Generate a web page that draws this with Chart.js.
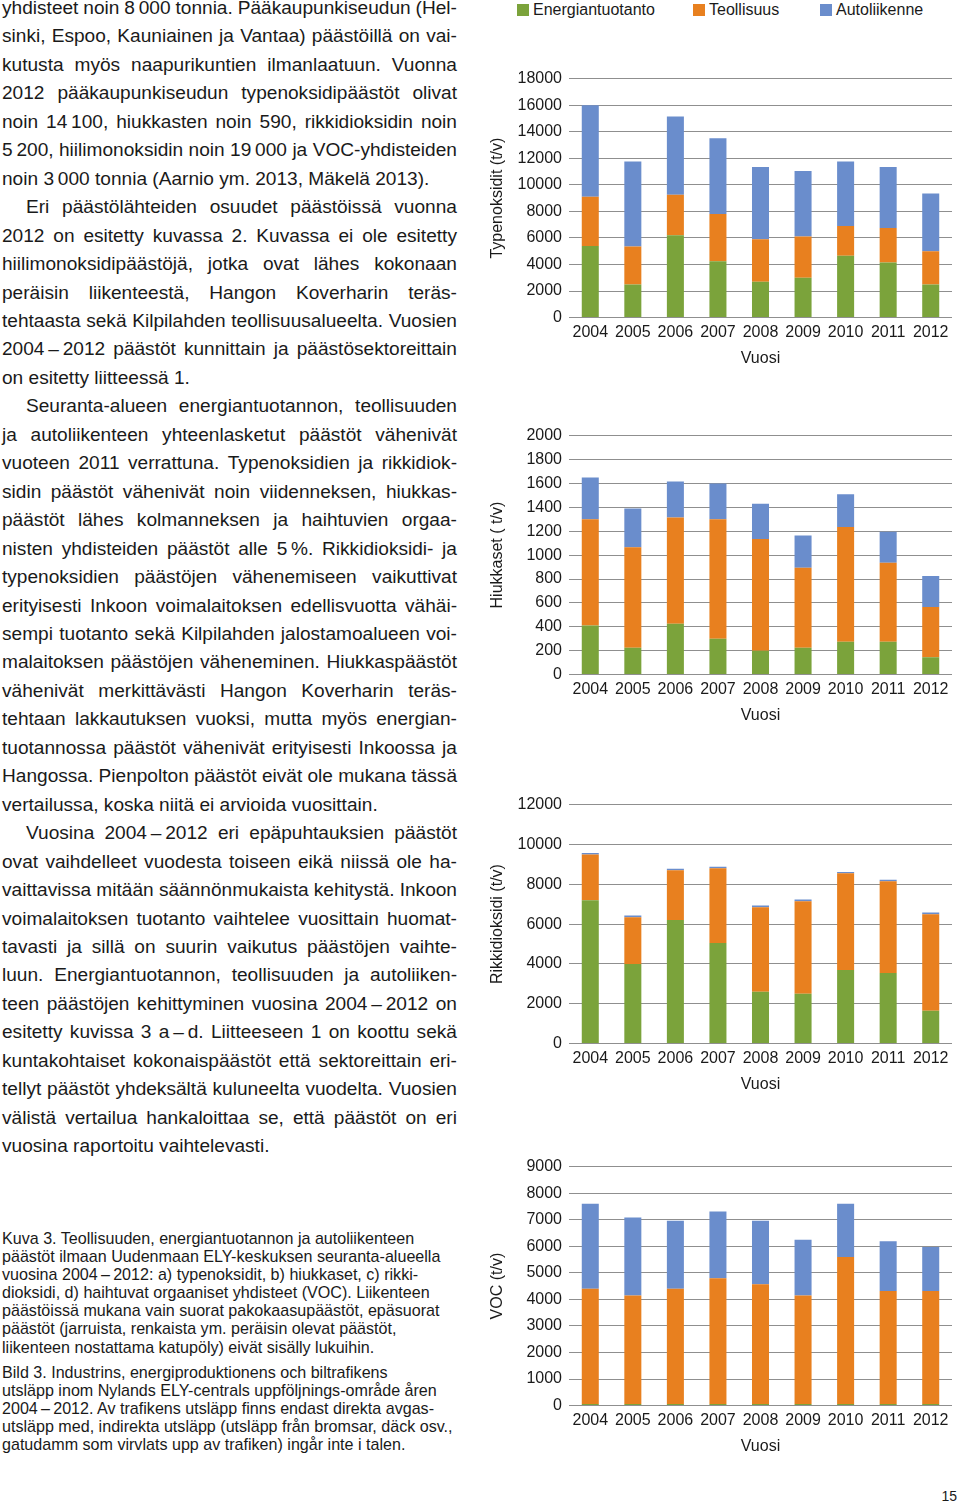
<!DOCTYPE html>
<html lang="fi">
<head>
<meta charset="utf-8">
<title>Päästöt 2004–2012</title>
<script src="https://cdn.jsdelivr.net/npm/chart.js@4.4.1/dist/chart.umd.min.js"></script>
<style>
  body { margin: 0; width: 960px; height: 1503px; position: relative; overflow: hidden; background: #fff;
         font-family: "Liberation Sans", Arial, Helvetica, sans-serif; color: #1a1a1a; }
  #text { position: absolute; left: 2px; top: -6px; width: 455px; font-size: 19.1px; line-height: 28.45px; }
  #text div { display: flex; justify-content: space-between; white-space: nowrap; }
  #text div.last { display: block; }
  #text div.ind { padding-left: 24px; }
  #caption { position: absolute; left: 2px; top: 1229px; font-size: 16.1px; line-height: 18.1px; white-space: nowrap; }
  #caption .gap { height: 7px; }
  #legend { position: absolute; left: 517px; top: 0; font-size: 16px; line-height: 20px; white-space: nowrap; }
  #legend span.item { position: absolute; top: 0; }
  #legend i { display: inline-block; width: 12px; height: 12px; margin-right: 4px; vertical-align: -1px; }
  .chart { position: absolute; left: 488px; width: 472px; height: 310px; }
  #page { position: absolute; right: 3px; top: 1488px; font-size: 14px; }
</style>
</head>
<body>

<div id="text">
  <div>yhdisteet noin 8&#8239;000 tonnia. Pääkaupunkiseudun (Hel-</div>
  <div>sinki, Espoo, Kauniainen ja Vantaa) päästöillä on vai-</div>
  <div>kutusta myös naapurikuntien ilmanlaatuun. Vuonna</div>
  <div>2012 pääkaupunkiseudun typenoksidipäästöt olivat</div>
  <div>noin 14&#8239;100, hiukkasten noin 590, rikkidioksidin noin</div>
  <div>5&#8239;200, hiilimonoksidin noin 19&#8239;000 ja VOC-yhdisteiden</div>
  <div class="last">noin 3&#8239;000 tonnia (Aarnio ym. 2013, Mäkelä 2013).</div>
  <div class="ind">Eri päästölähteiden osuudet päästöissä vuonna</div>
  <div>2012 on esitetty kuvassa 2. Kuvassa ei ole esitetty</div>
  <div>hiilimonoksidipäästöjä, jotka ovat lähes kokonaan</div>
  <div>peräisin liikenteestä, Hangon Koverharin teräs-</div>
  <div>tehtaasta sekä Kilpilahden teollisuusalueelta. Vuosien</div>
  <div>2004&#8239;–&#8239;2012 päästöt kunnittain ja päästösektoreittain</div>
  <div class="last">on esitetty liitteessä 1.</div>
  <div class="ind">Seuranta-alueen energiantuotannon, teollisuuden</div>
  <div>ja autoliikenteen yhteenlasketut päästöt vähenivät</div>
  <div>vuoteen 2011 verrattuna. Typenoksidien ja rikkidiok-</div>
  <div>sidin päästöt vähenivät noin viidenneksen, hiukkas-</div>
  <div>päästöt lähes kolmanneksen ja haihtuvien orgaa-</div>
  <div>nisten yhdisteiden päästöt alle 5&#8239;%. Rikkidioksidi- ja</div>
  <div>typenoksidien päästöjen vähenemiseen vaikuttivat</div>
  <div>erityisesti Inkoon voimalaitoksen edellisvuotta vähäi-</div>
  <div>sempi tuotanto sekä Kilpilahden jalostamoalueen voi-</div>
  <div>malaitoksen päästöjen väheneminen. Hiukkaspäästöt</div>
  <div>vähenivät merkittävästi Hangon Koverharin teräs-</div>
  <div>tehtaan lakkautuksen vuoksi, mutta myös energian-</div>
  <div>tuotannossa päästöt vähenivät erityisesti Inkoossa ja</div>
  <div>Hangossa. Pienpolton päästöt eivät ole mukana tässä</div>
  <div class="last">vertailussa, koska niitä ei arvioida vuosittain.</div>
  <div class="ind">Vuosina 2004&#8239;–&#8239;2012 eri epäpuhtauksien päästöt</div>
  <div>ovat vaihdelleet vuodesta toiseen eikä niissä ole ha-</div>
  <div>vaittavissa mitään säännönmukaista kehitystä. Inkoon</div>
  <div>voimalaitoksen tuotanto vaihtelee vuosittain huomat-</div>
  <div>tavasti ja sillä on suurin vaikutus päästöjen vaihte-</div>
  <div>luun. Energiantuotannon, teollisuuden ja autoliiken-</div>
  <div>teen päästöjen kehittyminen vuosina 2004&#8239;–&#8239;2012 on</div>
  <div>esitetty kuvissa 3 a&#8239;–&#8239;d. Liitteeseen 1 on koottu sekä</div>
  <div>kuntakohtaiset kokonaispäästöt että sektoreittain eri-</div>
  <div>tellyt päästöt yhdeksältä kuluneelta vuodelta. Vuosien</div>
  <div>välistä vertailua hankaloittaa se, että päästöt on eri</div>
  <div class="last">vuosina raportoitu vaihtelevasti.</div>
</div>

<div id="caption">
  <div>Kuva 3. Teollisuuden, energiantuotannon ja autoliikenteen</div>
  <div>päästöt ilmaan Uudenmaan ELY-keskuksen seuranta-alueella</div>
  <div>vuosina 2004&#8239;–&#8239;2012: a) typenoksidit, b) hiukkaset, c) rikki-</div>
  <div>dioksidi, d) haihtuvat orgaaniset yhdisteet (VOC). Liikenteen</div>
  <div>päästöissä mukana vain suorat pakokaasupäästöt, epäsuorat</div>
  <div>päästöt (jarruista, renkaista ym. peräisin olevat päästöt,</div>
  <div>liikenteen nostattama katupöly) eivät sisälly lukuihin.</div>
  <div class="gap"></div>
  <div>Bild 3. Industrins, energiproduktionens och biltrafikens</div>
  <div>utsläpp inom Nylands ELY-centrals uppföljnings-område åren</div>
  <div>2004&#8239;–&#8239;2012. Av trafikens utsläpp finns endast direkta avgas-</div>
  <div>utsläpp med, indirekta utsläpp (utsläpp från bromsar, däck osv.,</div>
  <div>gatudamm som virvlats upp av trafiken) ingår inte i talen.</div>
</div>

<div id="legend"></div>

<div class="chart" style="top:62px"><canvas id="noxChart"></canvas></div>
<div class="chart" style="top:419px"><canvas id="pmChart"></canvas></div>
<div class="chart" style="top:788px"><canvas id="so2Chart"></canvas></div>
<div class="chart" style="top:1150px"><canvas id="vocChart"></canvas></div>

<div id="page">15</div>

<script>
// Vuodet ja sektorit
const years = ['2004', '2005', '2006', '2007', '2008', '2009', '2010', '2011', '2012'];
const sectors = ['Energiantuotanto', 'Teollisuus', 'Autoliikenne'];
const sectorColors = ['#7ba33b', '#e8801f', '#6a8dcc'];

// a) Typenoksidit (t/v)
const noxEnergy = [5400, 2500, 6200, 4250, 2700, 3000, 4650, 4150, 2500];
const noxIndustry = [3700, 2850, 3050, 3550, 3200, 3100, 2250, 2600, 2500];
const noxTraffic = [6900, 6400, 5900, 5700, 5450, 4950, 4850, 4600, 4350];

// b) Hiukkaset (t/v)
const pmEnergy = [410, 225, 425, 300, 200, 225, 275, 275, 145];
const pmIndustry = [890, 840, 890, 1000, 935, 670, 960, 660, 420];
const pmTraffic = [350, 325, 300, 300, 295, 270, 275, 260, 260];

// c) Rikkidioksidi (t/v)
const so2Energy = [7200, 4000, 6200, 5050, 2600, 2500, 3700, 3550, 1650];
const so2Industry = [2300, 2350, 2500, 3750, 4250, 4650, 4850, 4600, 4850];
const so2Traffic = [70, 80, 80, 80, 80, 80, 70, 80, 80];

// d) VOC (t/v)
const vocEnergy = [60, 60, 60, 60, 60, 60, 60, 60, 60];
const vocIndustry = [4340, 4090, 4340, 4740, 4510, 4090, 5540, 4260, 4260];
const vocTraffic = [3200, 2930, 2560, 2510, 2390, 2100, 2000, 1870, 1650];

// Justify the body text line by line (words spread across the column)
document.querySelectorAll('#text div:not(.last)').forEach(function (line) {
    const words = line.textContent.trim().split(' ');
    line.innerHTML = '';
    words.forEach(function (w) {
        const s = document.createElement('span');
        s.textContent = w;
        line.appendChild(s);
    });
});

// HTML legend (one shared legend above the first chart)
const legendLeft = [0, 176, 303];
const legendEl = document.getElementById('legend');
sectors.forEach(function (name, i) {
    const item = document.createElement('span');
    item.className = 'item';
    item.style.left = legendLeft[i] + 'px';
    item.innerHTML = '<i style="background:' + sectorColors[i] + '"></i>' + name;
    legendEl.appendChild(item);
});

function stackedChart(id, yTitle, energy, industry, traffic, yMax, yStep) {
    const ctx = document.getElementById(id).getContext('2d');
    return new Chart(ctx, {
        type: 'bar',
        data: {
            labels: years,
            datasets: [
                { label: sectors[0], data: energy, backgroundColor: sectorColors[0], borderWidth: 0 },
                { label: sectors[1], data: industry, backgroundColor: sectorColors[1], borderWidth: 0 },
                { label: sectors[2], data: traffic, backgroundColor: sectorColors[2], borderWidth: 0 }
            ]
        },
        options: {
            responsive: true,
            maintainAspectRatio: false,
            animation: false,
            layout: { padding: { top: 12, right: 8, bottom: 0, left: 0 } },
            datasets: { bar: { categoryPercentage: 1, barPercentage: 0.4 } },
            plugins: {
                legend: { display: false },
                tooltip: { enabled: false }
            },
            scales: {
                x: {
                    stacked: true,
                    grid: { display: false, drawTicks: false },
                    border: { display: false },
                    ticks: { color: '#1a1a1a', font: { size: 16 }, padding: 5, maxRotation: 0, autoSkip: false },
                    title: {
                        display: true,
                        text: 'Vuosi',
                        color: '#1a1a1a',
                        font: { size: 16 },
                        padding: { top: 2, bottom: 4 }
                    }
                },
                y: {
                    stacked: true,
                    min: 0,
                    max: yMax,
                    grid: { color: '#8f8f8f', drawTicks: false },
                    border: { display: false },
                    ticks: {
                        stepSize: yStep,
                        padding: 7,
                        color: '#1a1a1a',
                        font: { size: 16 },
                        callback: function (v) { return String(v); }
                    },
                    title: {
                        display: true,
                        text: yTitle,
                        color: '#1a1a1a',
                        font: { size: 16 },
                        padding: { top: 0, bottom: 4 }
                    },
                    afterFit: function (scale) { scale.width = 81; }
                }
            }
        }
    });
}

stackedChart('noxChart', 'Typenoksidit (t/v)', noxEnergy, noxIndustry, noxTraffic, 18000, 2000);
stackedChart('pmChart', 'Hiukkaset ( t/v)', pmEnergy, pmIndustry, pmTraffic, 2000, 200);
stackedChart('so2Chart', 'Rikkidioksidi (t/v)', so2Energy, so2Industry, so2Traffic, 12000, 2000);
stackedChart('vocChart', 'VOC (t/v)', vocEnergy, vocIndustry, vocTraffic, 9000, 1000);
</script>
</body>
</html>
